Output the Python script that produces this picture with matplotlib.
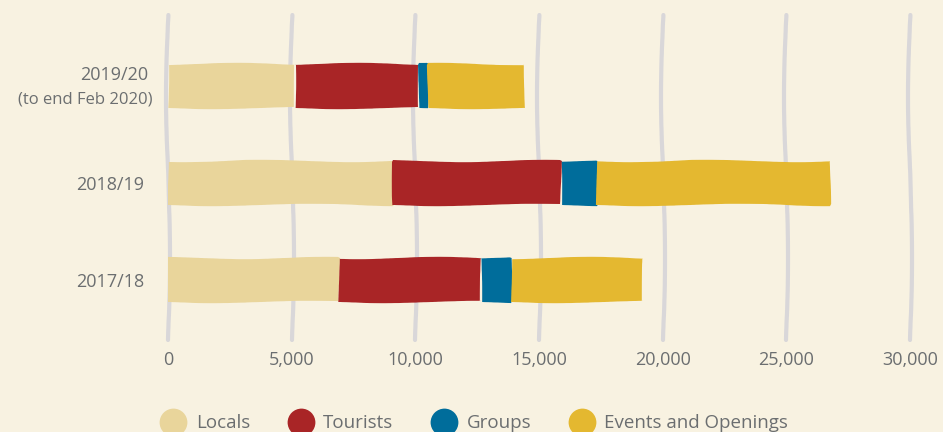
import numpy as np
import matplotlib.pyplot as plt
from matplotlib.lines import Line2D

years = ["2017/18", "2018/19", "2019/20"]
locals_ = [6900, 9100, 5150]
tourists = [5750, 6800, 5000]
groups = [1200, 1450, 370]
events = [5350, 9400, 3900]

series = [("Locals", locals_, "#e9d59b"),
          ("Tourists", tourists, "#a92526"),
          ("Groups", groups, "#006d9b"),
          ("Events and Openings", events, "#e4b830")]

bg = "#f8f2e1"
txt = "#6b6e70"
plt.rcParams['font.family'] = ['Open Sans', 'DejaVu Sans']

fig = plt.figure(figsize=(9.43, 4.32), dpi=100, facecolor=bg)
ax = fig.add_axes([168 / 943, 92 / 432, 742 / 943, 325 / 432])
ax.set_facecolor(bg)

np.random.seed(3)
ticks = np.arange(0, 30001, 5000)
for t in ticks:
    ln = ax.axvline(t, color="#d9d7d9", lw=3, zorder=1, solid_capstyle="round",
                    clip_on=False)
    ln.set_sketch_params(scale=2, length=400, randomness=3)

y = np.arange(len(years))
left = np.zeros(len(years))
for name, vals, col in series:
    bars = ax.barh(y, vals, left=left, height=0.46, color=col, zorder=2)
    for b in bars:
        b.set_sketch_params(scale=1.2, length=250, randomness=4)
    left += np.array(vals)

ax.set_xlim(0, 30000)
ax.set_ylim(-0.62, 2.73)
ax.set_xticks(ticks)
ax.set_xticklabels([f"{t:,}" for t in ticks], fontsize=13, color=txt)
ax.set_yticks(y[:2])
ax.set_yticklabels(years[:2], fontsize=13, color=txt)
ax.tick_params(length=0, pad=17)
ax.tick_params(axis="x", pad=8)
for s in ax.spines.values():
    s.set_visible(False)

ax.annotate(years[2], xy=(0, 2), xycoords=("axes fraction", "data"),
            xytext=(-14, 8), textcoords="offset points",
            ha="right", va="center", fontsize=13, color=txt)
ax.annotate("(to end Feb 2020)", xy=(0, 2), xycoords=("axes fraction", "data"),
            xytext=(-11, -10), textcoords="offset points",
            ha="right", va="center", fontsize=12, color=txt)

handles = [Line2D([], [], marker="o", ls="", markersize=20, color=c, markeredgewidth=0)
           for _, _, c in series]
fig.legend(handles, [n for n, _, _ in series], loc="lower center", ncol=4,
           bbox_to_anchor=(0.5, -0.04), frameon=False, fontsize=13.5,
           labelcolor=txt, handletextpad=0.2, columnspacing=1.7)

fig.savefig("out.png", dpi=100, facecolor=bg)
